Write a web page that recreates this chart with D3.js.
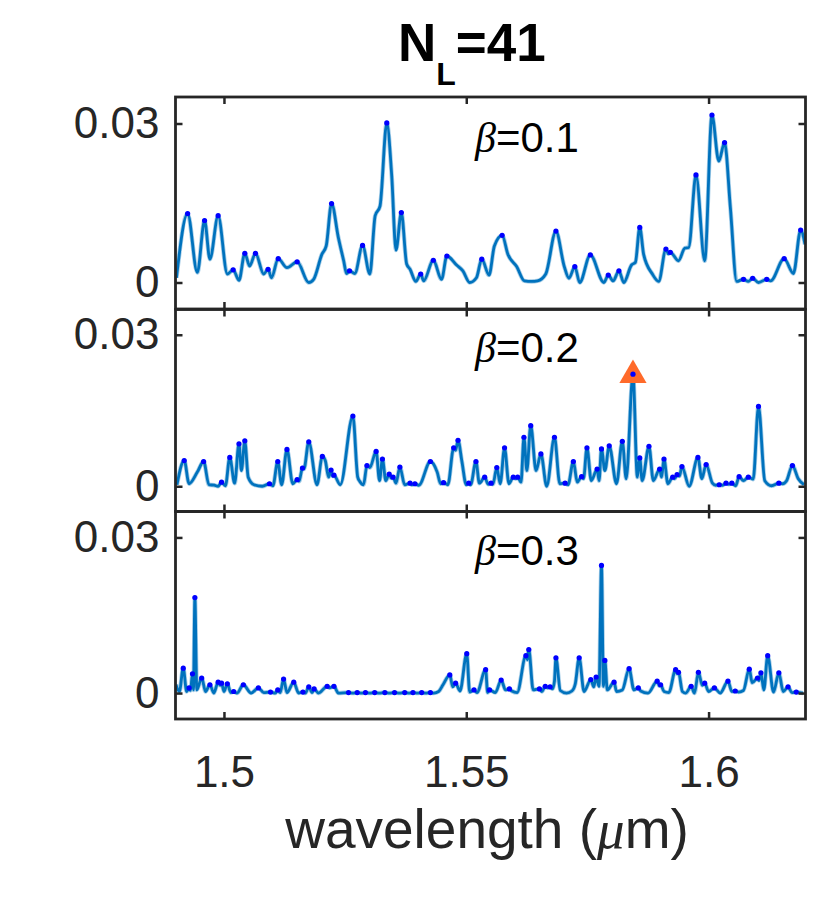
<!DOCTYPE html>
<html><head><meta charset="utf-8">
<script src="https://cdn.jsdelivr.net/npm/d3@7"></script>
<style>body{margin:0;background:#fff}svg{display:block}</style>
</head><body>
<svg id="chart" width="830" height="909"></svg>
<script>
// ---------- data ----------
const xTicks = [1.5, 1.55, 1.6];
const xTickLabels = ["1.5", "1.55", "1.6"];
const yTicks = [0, 0.03];
const yTickLabels = ["0", "0.03"];
const betaValues = ["0.1", "0.2", "0.3"];
const xDomain = [1.49, 1.62];
const yDomain = [-0.005, 0.035];

const spectrumBeta01 = [
[1.4902,0.0009],[1.4925,0.0130],[1.4945,0.0019],[1.4960,0.0117],[1.4971,0.0044],[1.4988,0.0126],
[1.5007,0.0016],[1.5019,0.0024],[1.5031,0.0004],[1.5043,0.0055],[1.5053,0.0031],[1.5065,0.0055],
[1.5082,0.0016],[1.5091,0.0025],[1.5098,0.0009],[1.5112,0.0045],[1.5130,0.0028],[1.5151,0.0039],
[1.5175,0.0000],[1.5185,0.0006],[1.5202,0.0053],[1.5211,0.0069],[1.5222,0.0149],[1.5236,0.0085],
[1.5247,0.0041],[1.5253,0.0017],[1.5259,0.0022],[1.5270,0.0017],[1.5286,0.0070],[1.5301,0.0016],
[1.5312,0.0126],[1.5322,0.0144],[1.5336,0.0301],[1.5346,0.0204],[1.5355,0.0061],[1.5366,0.0132],
[1.5377,0.0035],[1.5384,0.0025],[1.5396,0.0002],[1.5406,0.0016],[1.5412,0.0003],[1.5432,0.0042],
[1.5449,0.0006],[1.5460,0.0050],[1.5480,0.0033],[1.5493,0.0022],[1.5507,0.0000],[1.5521,0.0009],
[1.5532,0.0044],[1.5547,0.0014],[1.5558,0.0069],[1.5574,0.0089],[1.5586,0.0053],[1.5604,0.0030],
[1.5620,0.0003],[1.5635,0.0002],[1.5647,0.0003],[1.5664,0.0016],[1.5685,0.0097],[1.5702,0.0031],
[1.5712,0.0008],[1.5724,0.0030],[1.5734,0.0000],[1.5756,0.0052],[1.5784,0.0000],[1.5793,0.0014],
[1.5803,0.0003],[1.5815,0.0022],[1.5825,0.0000],[1.5841,0.0033],[1.5849,0.0038],[1.5858,0.0104],
[1.5866,0.0053],[1.5884,0.0016],[1.5897,0.0002],[1.5912,0.0063],[1.5917,0.0054],[1.5921,0.0057],
[1.5938,0.0041],[1.5951,0.0065],[1.5959,0.0066],[1.5974,0.0203],[1.5992,0.0041],[1.6007,0.0316],
[1.6021,0.0229],[1.6033,0.0264],[1.6045,0.0141],[1.6058,0.0002],[1.6072,0.0006],[1.6082,0.0002],
[1.6091,0.0008],[1.6103,0.0000],[1.6120,0.0006],[1.6128,0.0003],[1.6156,0.0045],[1.6175,0.0017],
[1.6190,0.0099],[1.6199,0.0072]
];

const spectrumBeta02 = [
[1.4903,0.0003],[1.4918,0.0051],[1.4928,0.0005],[1.4945,0.0028],[1.4958,0.0049],[1.4969,0.0003],
[1.4980,0.0002],[1.4988,0.0000],[1.4995,0.0008],[1.5003,0.0001],[1.5012,0.0057],[1.5022,0.0006],
[1.5031,0.0084],[1.5036,0.0031],[1.5043,0.0090],[1.5050,0.0018],[1.5062,0.0003],[1.5079,0.0000],
[1.5094,0.0005],[1.5101,0.0001],[1.5111,0.0049],[1.5119,0.0003],[1.5130,0.0073],[1.5142,0.0005],
[1.5151,0.0013],[1.5155,0.0010],[1.5162,0.0036],[1.5165,0.0034],[1.5175,0.0088],[1.5192,0.0003],
[1.5203,0.0059],[1.5209,0.0051],[1.5216,0.0018],[1.5221,0.0032],[1.5224,0.0020],[1.5227,0.0022],
[1.5240,0.0003],[1.5266,0.0139],[1.5276,0.0018],[1.5280,0.0010],[1.5288,0.0003],[1.5295,0.0041],
[1.5301,0.0037],[1.5314,0.0069],[1.5321,0.0011],[1.5327,0.0054],[1.5334,0.0011],[1.5341,0.0024],
[1.5345,0.0016],[1.5349,0.0018],[1.5355,0.0006],[1.5363,0.0038],[1.5373,0.0003],[1.5384,0.0006],
[1.5388,0.0003],[1.5394,0.0005],[1.5402,0.0002],[1.5426,0.0049],[1.5440,0.0028],[1.5447,0.0005],
[1.5453,0.0007],[1.5462,0.0003],[1.5474,0.0076],[1.5478,0.0071],[1.5483,0.0091],[1.5491,0.0049],
[1.5500,0.0003],[1.5505,0.0006],[1.5509,0.0003],[1.5520,0.0049],[1.5527,0.0006],[1.5538,0.0018],
[1.5545,0.0004],[1.5551,0.0006],[1.5555,0.0004],[1.5563,0.0037],[1.5570,0.0005],[1.5579,0.0076],
[1.5588,0.0005],[1.5597,0.0018],[1.5602,0.0015],[1.5606,0.0018],[1.5613,0.0008],[1.5619,0.0097],
[1.5625,0.0031],[1.5633,0.0120],[1.5644,0.0031],[1.5654,0.0064],[1.5666,0.0000],[1.5682,0.0097],
[1.5693,0.0005],[1.5704,0.0006],[1.5710,0.0003],[1.5721,0.0049],[1.5729,0.0008],[1.5738,0.0019],
[1.5742,0.0015],[1.5749,0.0076],[1.5758,0.0011],[1.5770,0.0034],[1.5774,0.0011],[1.5779,0.0074],
[1.5786,0.0031],[1.5795,0.0080],[1.5810,0.0005],[1.5822,0.0089],[1.5830,0.0015],[1.5844,0.0222],
[1.5853,0.0018],[1.5858,0.0056],[1.5863,0.0011],[1.5877,0.0079],[1.5886,0.0011],[1.5899,0.0034],
[1.5903,0.0018],[1.5908,0.0054],[1.5916,0.0005],[1.5926,0.0018],[1.5930,0.0015],[1.5935,0.0023],
[1.5940,0.0020],[1.5945,0.0039],[1.5960,0.0000],[1.5978,0.0057],[1.5986,0.0015],[1.5995,0.0043],
[1.6008,0.0006],[1.6015,0.0002],[1.6022,0.0003],[1.6029,0.0002],[1.6036,0.0006],[1.6042,0.0004],
[1.6048,0.0006],[1.6056,0.0001],[1.6063,0.0019],[1.6072,0.0011],[1.6082,0.0018],[1.6092,0.0014],
[1.6103,0.0158],[1.6116,0.0011],[1.6130,0.0001],[1.6145,0.0006],[1.6153,0.0005],[1.6161,0.0011],
[1.6173,0.0041],[1.6185,0.0015],[1.6197,0.0003]
];

const spectrumBeta03 = [
[1.4901,0.0016],[1.4908,0.0003],[1.4916,0.0048],[1.4923,0.0003],[1.4928,0.0010],[1.4931,0.0005],
[1.4935,0.0037],[1.4937,0.0006],[1.4940,0.0184],[1.4944,0.0006],[1.4954,0.0029],[1.4962,0.0003],
[1.4971,0.0016],[1.4979,0.0000],[1.4988,0.0021],[1.4992,0.0015],[1.4995,0.0019],[1.5000,0.0003],
[1.5007,0.0018],[1.5014,0.0001],[1.5020,0.0003],[1.5027,0.0000],[1.5040,0.0016],[1.5056,0.0000],
[1.5071,0.0010],[1.5082,0.0001],[1.5096,0.0002],[1.5106,0.0000],[1.5111,0.0006],[1.5116,0.0001],
[1.5123,0.0027],[1.5130,0.0001],[1.5144,0.0021],[1.5154,0.0000],[1.5163,0.0002],[1.5168,0.0000],
[1.5175,0.0012],[1.5182,0.0001],[1.5186,0.0008],[1.5195,0.0000],[1.5213,0.0013],[1.5218,0.0010],
[1.5227,0.0013],[1.5236,0.0000],[1.5257,0.0001],[1.5266,0.0000],[1.5275,0.0001],[1.5284,0.0000],
[1.5292,0.0001],[1.5301,0.0000],[1.5311,0.0001],[1.5320,0.0000],[1.5332,0.0001],[1.5341,0.0000],
[1.5352,0.0001],[1.5362,0.0000],[1.5373,0.0001],[1.5382,0.0000],[1.5390,0.0001],[1.5399,0.0000],
[1.5408,0.0001],[1.5416,0.0000],[1.5426,0.0001],[1.5433,0.0000],[1.5443,0.0003],[1.5452,0.0016],
[1.5466,0.0035],[1.5472,0.0012],[1.5478,0.0019],[1.5487,0.0004],[1.5501,0.0076],[1.5507,0.0002],
[1.5516,0.0006],[1.5522,0.0001],[1.5540,0.0045],[1.5544,0.0001],[1.5548,0.0006],[1.5560,0.0001],
[1.5572,0.0025],[1.5581,0.0006],[1.5589,0.0008],[1.5594,0.0004],[1.5605,0.0001],[1.5623,0.0072],
[1.5626,0.0064],[1.5629,0.0084],[1.5638,0.0006],[1.5651,0.0008],[1.5656,0.0003],[1.5663,0.0013],
[1.5668,0.0010],[1.5673,0.0012],[1.5678,0.0008],[1.5682,0.0023],[1.5685,0.0068],[1.5694,0.0005],
[1.5707,0.0000],[1.5718,0.0004],[1.5725,0.0018],[1.5733,0.0068],[1.5743,0.0003],[1.5757,0.0026],
[1.5763,0.0012],[1.5768,0.0031],[1.5774,0.0013],[1.5779,0.0246],[1.5783,0.0013],[1.5786,0.0063],
[1.5791,0.0006],[1.5805,0.0021],[1.5810,0.0003],[1.5822,0.0006],[1.5836,0.0047],[1.5846,0.0006],
[1.5855,0.0010],[1.5860,0.0004],[1.5875,0.0000],[1.5894,0.0023],[1.5898,0.0014],[1.5901,0.0016],
[1.5908,0.0003],[1.5918,0.0001],[1.5932,0.0045],[1.5935,0.0037],[1.5938,0.0040],[1.5946,0.0003],
[1.5953,0.0000],[1.5964,0.0013],[1.5971,0.0000],[1.5979,0.0040],[1.5987,0.0015],[1.5992,0.0019],
[1.6000,0.0003],[1.6012,0.0010],[1.6024,0.0000],[1.6040,0.0023],[1.6048,0.0003],[1.6055,0.0004],
[1.6062,0.0002],[1.6072,0.0005],[1.6084,0.0046],[1.6090,0.0020],[1.6101,0.0029],[1.6104,0.0024],
[1.6108,0.0039],[1.6114,0.0006],[1.6122,0.0072],[1.6134,0.0002],[1.6145,0.0039],[1.6154,0.0003],
[1.6164,0.0012],[1.6172,0.0001],[1.6181,0.0002],[1.6188,0.0001],[1.6195,0.0000]
];

const spectra = [spectrumBeta01, spectrumBeta02, spectrumBeta03].map(s => s.slice().sort((a, b) => a[0] - b[0]));

// ---------- layout ----------
const svg = d3.select("#chart");
const FONT = "'Liberation Sans', Arial, Helvetica, sans-serif";
const AXIS_COLOR = "#262626";
const LINE_COLOR = "#0072BD";
const left = 175.5, right = 805.5;
const panels = [
  {top: 97, bottom: 309},
  {top: 309.5, bottom: 511.5},
  {top: 511.5, bottom: 719}
];
const x = d3.scaleLinear().domain(xDomain).range([left, right]);

svg.append("rect").attr("width", 830).attr("height", 909).attr("fill", "#fff");

panels.forEach((p, i) => {
  const y = d3.scaleLinear().domain(yDomain).range([p.bottom, p.top]);
  const data = spectra[i];
  const g = svg.append("g");

  const clipId = "clip" + i;
  svg.append("clipPath").attr("id", clipId)
    .append("rect").attr("x", left).attr("y", p.top)
    .attr("width", right - left).attr("height", p.bottom - p.top);

  const plot = g.append("g").attr("clip-path", `url(#${clipId})`);

  const line = d3.line().x(d => x(d[0])).y(d => y(d[1])).curve(d3.curveMonotoneX);
  plot.append("path").datum(data)
    .attr("d", line)
    .attr("fill", "none")
    .attr("stroke", LINE_COLOR)
    .attr("stroke-opacity", 0.35)
    .attr("stroke-width", 4.4)
    .attr("stroke-linejoin", "round");
  plot.append("path").datum(data)
    .attr("d", line)
    .attr("fill", "none")
    .attr("stroke", LINE_COLOR)
    .attr("stroke-width", 2.8)
    .attr("stroke-linejoin", "round");

  // highest resonance marker on the beta=0.2 panel
  if (i === 1) {
    const top = d3.greatest(data, d => d[1]);
    plot.append("path")
      .attr("d", d3.symbol().type(d3.symbolTriangle).size(320)())
      .attr("transform", `translate(${x(top[0])},${y(top[1]) + 1})`)
      .attr("fill", "#FF6A2A");
  }

  // peak dots (local maxima)
  const peaks = data.filter((d, k) => k > 0 && k < data.length - 1 &&
      d[1] > data[k - 1][1] && d[1] >= data[k + 1][1]);
  plot.selectAll("circle").data(peaks).join("circle")
    .attr("cx", d => x(d[0])).attr("cy", d => y(d[1]))
    .attr("r", 2.6).attr("fill", "#0000FF");

  // axes with inward ticks
  const yAxisL = d3.axisLeft(y).tickValues(yTicks)
    .tickFormat((d, k) => yTickLabels[k]).tickSize(-7).tickPadding(16);
  const gl = g.append("g").attr("transform", `translate(${left},0)`).call(yAxisL);
  const yAxisR = d3.axisRight(y).tickValues(yTicks).tickFormat("").tickSize(-7);
  const gr = g.append("g").attr("transform", `translate(${right},0)`).call(yAxisR);
  const xAxisT = d3.axisTop(x).tickValues(xTicks).tickFormat("").tickSize(-7);
  const gt = g.append("g").attr("transform", `translate(0,${p.top})`).call(xAxisT);
  const xAxisB = d3.axisBottom(x).tickValues(xTicks)
    .tickFormat((d, k) => i === 2 ? xTickLabels[k] : "").tickSize(-7).tickPadding(37);
  const gb = g.append("g").attr("transform", `translate(0,${p.bottom})`).call(xAxisB);

  [gl, gr, gt, gb].forEach(a => {
    a.select(".domain").remove();
    a.selectAll(".tick line").attr("stroke", AXIS_COLOR).attr("stroke-width", 2.5);
    a.selectAll(".tick text").attr("fill", AXIS_COLOR)
      .style("font-family", FONT).style("font-size", "44px");
  });

  g.append("rect")
    .attr("x", left).attr("y", p.top)
    .attr("width", right - left).attr("height", p.bottom - p.top)
    .attr("fill", "none").attr("stroke", AXIS_COLOR).attr("stroke-width", 2.8);

  // beta label
  const t = g.append("text")
    .attr("x", x(1.5518)).attr("y", y(0.0247))
    .attr("fill", "#000").style("font-size", "42px");
  t.append("tspan").text("β")
    .style("font-family", "'Liberation Serif', 'DejaVu Serif', serif")
    .style("font-style", "italic");
  t.append("tspan").text("=" + betaValues[i]).style("font-family", FONT);
});

// title N_L=41
const title = svg.append("text").attr("x", 398).attr("y", 61)
  .style("font-family", FONT).style("font-weight", "bold").attr("fill", "#000");
title.append("tspan").text("N").style("font-size", "53px");
title.append("tspan").text("L").attr("dy", 24).style("font-size", "32px");
title.append("tspan").text("=41").attr("dy", -24).style("font-size", "53px");

// x label
const xl = svg.append("text").attr("x", 487).attr("y", 848)
  .attr("text-anchor", "middle").attr("fill", AXIS_COLOR)
  .style("font-family", FONT).style("font-size", "55px");
xl.append("tspan").text("wavelength (");
xl.append("tspan").text("μ").style("font-style", "italic")
  .style("font-family", "'Liberation Serif', 'DejaVu Serif', serif");
xl.append("tspan").text("m)");
</script>
</body></html>
